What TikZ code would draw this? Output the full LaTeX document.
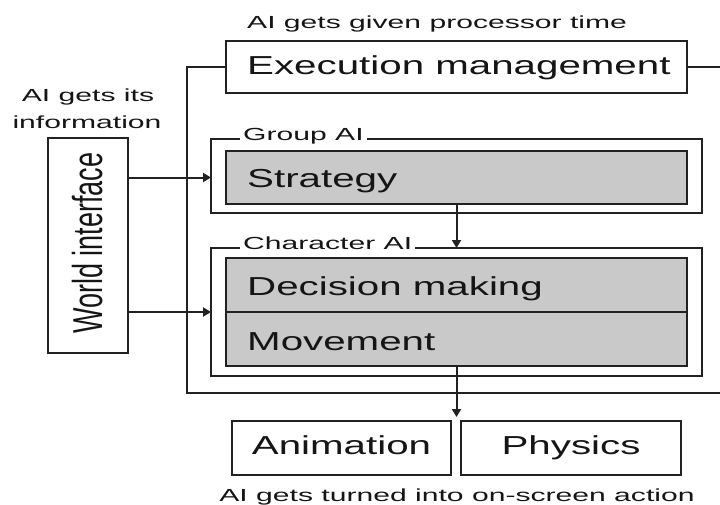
\documentclass[tikz,border=0pt]{standalone}
\usepackage{fontspec}
\setmainfont{Liberation Sans}[FakeStretch=1.55]
\newfontfamily\smallfam{Liberation Sans}[FakeStretch=1.72]
\newfontfamily\plainfam{Liberation Sans}
\usetikzlibrary{arrows.meta,calc}
\definecolor{linec}{HTML}{222222}
\definecolor{grayc}{HTML}{C9C9C9}
\definecolor{textc}{HTML}{151515}
\begin{document}
\begin{tikzpicture}[x=1pt,y=-1pt,
  box/.style={draw=linec, line width=2.4pt, inner sep=0pt, outer sep=0pt, anchor=north west},
  graybox/.style={box, fill=grayc},
  conn/.style={draw=linec, line width=2pt},
  arr/.style={conn, -{Triangle[length=8pt,width=9pt]}},
  bigtext/.style={text=textc, inner sep=0pt, font=\fontsize{26}{30}\selectfont},
  smalltext/.style={text=textc, inner sep=0pt, font=\smallfam\fontsize{17.5}{20}\selectfont}
]
\useasboundingbox (0,0) rectangle (720,504);
\fill[white] (0,0) rectangle (720,504);

% boxes
\node[box, minimum width=461pt, minimum height=52pt] (exec) at (226,41) {};
\node[box, minimum width=80pt, minimum height=215pt] (wi) at (48,138) {};
\node[box, minimum width=491pt, minimum height=74pt] (group) at (211,139) {};
\node[graybox, minimum width=461pt, minimum height=53pt] (strat) at (226,151) {};
\node[box, minimum width=491pt, minimum height=128pt] (char) at (211,248) {};
\node[graybox, minimum width=461pt, minimum height=54pt] (dec) at (226,258) {};
\node[graybox, minimum width=461pt, minimum height=54pt] (mov) at (226,312) {};
\node[box, minimum width=219pt, minimum height=54pt] (anim) at (232,421) {};
\node[box, minimum width=220pt, minimum height=54pt] (phys) at (461,421) {};

% execution loop
\coordinate (lb) at (187,393);
\coordinate (rb) at (760,393);
\draw[conn] (exec.west) -| (lb) -- (rb) |- (exec.east);

% connectors
\draw[arr] (wi.east |- strat.west) -- (group.west |- strat.west);
\draw[arr] (wi.east |- dec.south west) -- (char.west |- dec.south west);
\draw[arr] (strat.south) -- (char.north);
\coordinate (gap) at ($(anim.north east)!.5!(phys.north west)$);
\draw[arr, shorten >=4pt] (mov.south) -- (mov.south |- gap);

% texts
\node[smalltext, anchor=base west] (tproc) at (247,28.5) {AI gets given processor time};
\node[bigtext, anchor=base west] (texec) at (247,74) {Execution management};
\node[smalltext, anchor=base] (tinfo1) at (88,101) {AI gets its};
\node[smalltext, anchor=base] (tinfo2) at (87,128) {information};
\node[smalltext, anchor=base west, fill=white, inner xsep=3pt, inner ysep=1.5pt] (tgroup) at (240,140) {Group AI};
\node[smalltext, anchor=base west, fill=white, inner xsep=3pt, inner ysep=1.5pt] (tchar) at (240,249) {Character AI};
\node[bigtext, anchor=base west] (tstrat) at (247,187) {Strategy};
\node[bigtext, anchor=base west] (tdec) at (247,295.5) {Decision making};
\node[bigtext, anchor=base west] (tmov) at (247,350) {Movement};
\node[bigtext, anchor=base] (tanim) at (anim.center |- 0,454) {Animation};
\node[bigtext, anchor=base] (tphys) at (phys.center |- 0,454) {Physics};
\node[smalltext, anchor=base] (tbottom) at (457,501.5) {AI gets turned into on-screen action};
\node[text=textc, inner sep=0pt, rotate=90, font=\plainfam\fontsize{27}{30}\selectfont] (twi) at (88,243) {\scalebox{1}[1.55]{World interface}};
\end{tikzpicture}
\end{document}
